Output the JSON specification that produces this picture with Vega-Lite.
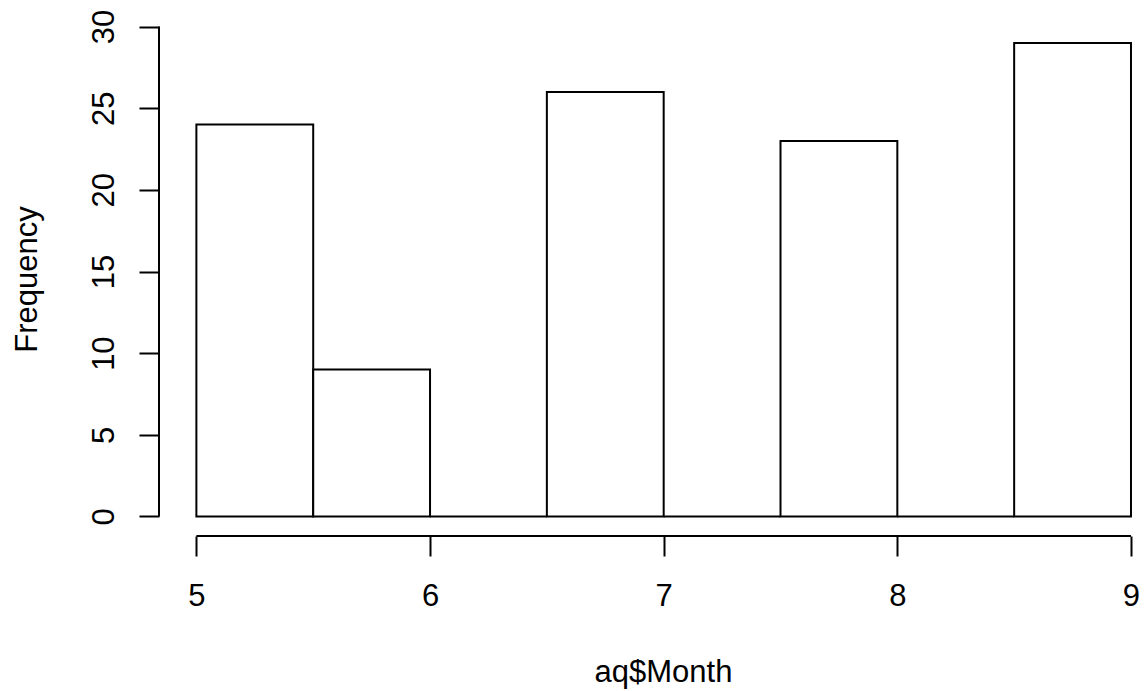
{
  "$schema": "https://vega.github.io/schema/vega-lite/v6.json",
  "autosize": "none",
  "width": 986,
  "height": 529,
  "padding": {"left": 159, "top": 7, "right": 0, "bottom": 155},
  "background": "white",
  "config": {
    "view": {"stroke": null},
    "font": "Liberation Sans",
    "axis": {
      "grid": false,
      "domain": false,
      "tickColor": "black",
      "tickWidth": 2,
      "tickSize": 20,
      "labelColor": "black",
      "labelFont": "Liberation Sans",
      "labelFontSize": 31,
      "titleColor": "black",
      "titleFont": "Liberation Sans",
      "titleFontSize": 31,
      "titleFontWeight": "normal"
    }
  },
  "data": {
    "values": [
      {"bin_start": 5.0, "bin_end": 5.5, "count": 24},
      {"bin_start": 5.5, "bin_end": 6.0, "count": 9},
      {"bin_start": 6.0, "bin_end": 6.5, "count": 0},
      {"bin_start": 6.5, "bin_end": 7.0, "count": 26},
      {"bin_start": 7.0, "bin_end": 7.5, "count": 0},
      {"bin_start": 7.5, "bin_end": 8.0, "count": 23},
      {"bin_start": 8.0, "bin_end": 8.5, "count": 0},
      {"bin_start": 8.5, "bin_end": 9.0, "count": 29}
    ]
  },
  "layer": [
    {
      "mark": {"type": "rect", "fill": "white", "stroke": "black", "strokeWidth": 2},
      "encoding": {
        "x": {
          "field": "bin_start",
          "type": "quantitative",
          "scale": {"domain": [4.84, 9.06], "nice": false, "zero": false},
          "axis": {
            "values": [5, 6, 7, 8, 9],
            "format": "d",
            "title": "aq$Month",
            "labelBaseline": "alphabetic",
            "labelPadding": 49,
            "labelFlush": false,
            "labelOverlap": false,
            "titleBaseline": "alphabetic",
            "titleAnchor": "start",
            "titleAlign": "center",
            "titleX": 504,
            "titleY": 145
          }
        },
        "x2": {"field": "bin_end"},
        "y": {
          "field": "count",
          "type": "quantitative",
          "scale": {"domain": [-1.2, 31.2], "nice": false, "zero": false},
          "axis": {
            "values": [0, 5, 10, 15, 20, 25, 30],
            "format": "d",
            "title": "Frequency",
            "labelAngle": -90,
            "labelAlign": "center",
            "labelBaseline": "alphabetic",
            "labelPadding": 26,
            "labelOverlap": false,
            "labelFlush": false,
            "titleAngle": -90,
            "titleBaseline": "alphabetic",
            "titleAlign": "center",
            "titleAnchor": "start",
            "titleX": -123,
            "titleY": 272
          }
        },
        "y2": {"datum": 0}
      }
    },
    {
      "data": {"values": [{"from": 5, "to": 9}]},
      "mark": {"type": "rule", "color": "black", "strokeWidth": 2},
      "encoding": {
        "x": {"field": "from", "type": "quantitative"},
        "x2": {"field": "to"},
        "y": {"datum": -1.2, "type": "quantitative"}
      }
    },
    {
      "data": {"values": [{"at": 4.84, "from": 0, "to": 30}]},
      "mark": {"type": "rule", "color": "black", "strokeWidth": 2},
      "encoding": {
        "x": {"field": "at", "type": "quantitative"},
        "y": {"field": "from", "type": "quantitative"},
        "y2": {"field": "to"}
      }
    }
  ]
}
